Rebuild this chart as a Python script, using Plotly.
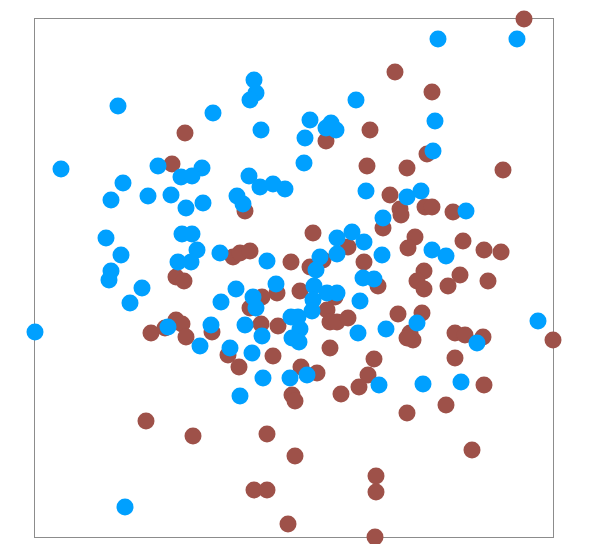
import plotly.graph_objects as go

# values, x from the left frame edge, y from the bottom edge
blue_x = [403, 482, 219, 221, 215, 321, 83, 178, 275, 296, 291, 301, 226, 400, 270, 398,
          269, 26, 123, 167, 146, 157, 214, 88, 225, 238, 250, 76, 113, 136, 202, 208,
          151, 168, 331, 372, 386, 431, 348, 71, 147, 157, 302, 317, 329, 162, 185, 86,
          143, 156, 347, 302, 232, 285, 281, 397, 411, 76, 74, 241, 201, 328, 339, 279,
          292, 302, 107, 218, 221, 278, 277, 325, 95, 186, 256, 263, 265, 257, 264, 210,
          227, 176, 133, 0, 323, 351, 382, 503, 442, 165, 195, 217, 344, 388, 426, 228,
          255, 272, 205, 90]
blue_y = [498, 498, 457, 444, 437, 437, 431, 424, 417, 414, 409, 407, 407, 416, 399, 386,
          374, 368, 371, 369, 360, 361, 361, 354, 350, 353, 348, 337, 341, 342, 341, 333,
          329, 334, 346, 340, 346, 326, 319, 299, 303, 303, 299, 305, 295, 287, 284, 282,
          275, 275, 282, 283, 276, 280, 267, 287, 281, 266, 257, 253, 248, 259, 258, 251,
          244, 244, 249, 240, 229, 237, 226, 236, 234, 235, 220, 220, 208, 199, 195, 212,
          201, 212, 210, 205, 204, 208, 214, 216, 194, 191, 189, 184, 152, 153, 155, 159,
          159, 162, 141, 30]

brown_x = [489, 360, 397, 150, 335, 291, 392, 137, 332, 372, 468, 355, 365, 366, 390, 397,
           418, 210, 348, 278, 380, 373, 428, 449, 466, 313, 198, 205, 215, 256, 275, 288,
           329, 343, 389, 382, 389, 425, 413, 453, 141, 149, 265, 242, 227, 300, 215, 292,
           295, 302, 313, 363, 387, 226, 243, 177, 116, 130, 141, 147, 151, 375, 378, 372,
           420, 430, 448, 518, 295, 193, 238, 204, 339, 420, 333, 324, 306, 266, 282, 257,
           260, 449, 411, 372, 111, 158, 232, 437, 260, 341, 341, 219, 232, 253, 340]
brown_y = [518, 465, 445, 404, 407, 396, 383, 373, 371, 369, 367, 342, 328, 322, 330, 330,
           325, 326, 309, 304, 300, 289, 296, 287, 285, 290, 280, 284, 286, 275, 270, 277,
           275, 251, 266, 256, 248, 262, 251, 256, 260, 256, 246, 244, 240, 240, 229, 227,
           215, 215, 219, 223, 224, 213, 211, 205, 204, 209, 217, 213, 200, 204, 197, 199,
           204, 202, 200, 197, 189, 182, 181, 170, 178, 179, 162, 150, 143, 170, 164, 142,
           136, 152, 132, 124, 116, 101, 103, 87, 81, 61, 45, 47, 47, 13, 0]

fig = go.Figure()
fig.add_trace(go.Scatter(x=brown_x, y=brown_y, mode='markers', cliponaxis=False,
                         marker=dict(size=17, color='#9e5149', line=dict(width=0))))
fig.add_trace(go.Scatter(x=blue_x, y=blue_y, mode='markers', cliponaxis=False,
                         marker=dict(size=17, color='#00a0ff', line=dict(width=0))))

axis_style = dict(range=[0, 518], showgrid=False, zeroline=False, showticklabels=False,
                  ticks='', showline=True, mirror=True, linecolor='#8c8c8c', linewidth=1,
                  layer='below traces')
# the page body adds an 8px margin, so the figure is trimmed to fit the window
fig.update_layout(
    width=590, height=536,
    margin=dict(l=27, r=45, t=11, b=7),
    paper_bgcolor='white', plot_bgcolor='white',
    showlegend=False,
    xaxis=axis_style,
    yaxis=axis_style,
)
fig.write_html("out.html")
